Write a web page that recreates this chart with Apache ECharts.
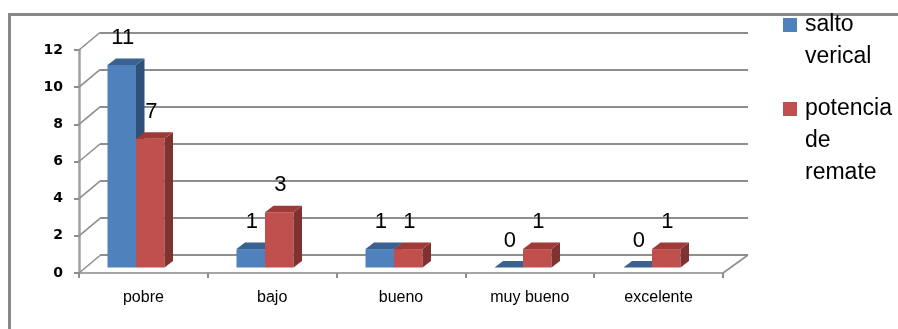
<!DOCTYPE html>
<html>
<head>
<meta charset="utf-8">
<title>salto verical / potencia de remate</title>
<script src="https://cdn.jsdelivr.net/npm/echarts@6/dist/echarts.min.js"></script>
<style>
  html, body { margin: 0; padding: 0; background: #ffffff; }
  #chart { width: 898px; height: 329px; }
</style>
</head>
<body>
<div id="chart"></div>
<script>
// Chart data
const categories = ['pobre', 'bajo', 'bueno', 'muy bueno', 'excelente'];
const seriesNames = ['salto verical', 'potencia de remate'];
const saltoVerical = [11, 1, 1, 0, 0];
const potenciaRemate = [7, 3, 1, 1, 1];
const yTicks = [0, 2, 4, 6, 8, 10, 12];

// Pseudo-3D look: depth offset of the bar boxes and of the wall/floor
const BAR_DEPTH = [8.5, -6.5];
const WALL_DEPTH_LEFT = [21, -17.5];
const WALL_DEPTH_RIGHT = [25, -18];
const BAR_FRACTION = 0.221;

const FACE = {
  blue: { front: '#4f81bd', top: '#3a6291', side: '#2f5078' },
  red:  { front: '#c0504d', top: '#9e3b39', side: '#7f3230' }
};

function barRenderer(shift, face) {
  return function (params, api) {
    const cat = api.value(0);
    const v = api.value(1);
    const base = api.coord([cat, 0]);
    const top = api.coord([cat, v]);
    const w = api.size([1, 0])[0] * BAR_FRACTION;
    const x0 = base[0] + shift * w;
    const x1 = x0 + w;
    const by = base[1];
    const ty = top[1];
    const dx = BAR_DEPTH[0], dy = BAR_DEPTH[1];
    return {
      type: 'group',
      children: [
        { type: 'rect', shape: { x: x0, y: ty, width: w, height: by - ty },
          style: { fill: face.front } },
        { type: 'polygon', shape: { points: [[x1, ty], [x1, by], [x1 + dx, by + dy], [x1 + dx, ty + dy]] },
          style: { fill: face.side } },
        { type: 'polygon', shape: { points: [[x0, ty], [x1, ty], [x1 + dx, ty + dy], [x0 + dx, ty + dy]] },
          style: { fill: face.top } },
        { type: 'text', x: x0 + w / 2 + 1, y: ty - 27,
          style: { text: String(v), fill: '#000', font: '22px "Liberation Sans", Arial, sans-serif',
                   align: 'center', verticalAlign: 'middle' } }
      ]
    };
  };
}

// Diagonal edges joining the front axis to the back wall
function wallEdges(params, api) {
  const v = api.value(1);
  const p = api.coord([0, v]);
  const x = params.coordSys.x;
  const lineStyle = { stroke: '#8e8e8e', lineWidth: 1.6 };
  const children = [
    { type: 'line', shape: { x1: x, y1: p[1], x2: x + WALL_DEPTH_LEFT[0], y2: p[1] + WALL_DEPTH_LEFT[1] }, style: lineStyle }
  ];
  if (v === 0) {
    const xr = params.coordSys.x + params.coordSys.width;
    children.push({ type: 'line',
      shape: { x1: xr, y1: p[1], x2: xr + WALL_DEPTH_RIGHT[0], y2: p[1] + WALL_DEPTH_RIGHT[1] },
      style: lineStyle });
  }
  return { type: 'group', children: children };
}

// Legend entries wrap one word per line; blank lines above keep the
// swatch level with the first word.
function wrapLegend(name) {
  const words = name.split(' ');
  return '\n'.repeat(words.length - 1) + words.join('\n');
}

const chart = echarts.init(document.getElementById('chart'), null, { renderer: 'canvas' });

const legendText = { color: '#000', fontFamily: '"Liberation Sans", Arial, sans-serif', fontSize: 23,
                     lineHeight: 32, padding: [0, 0, 0, 3] };

chart.setOption({
  animation: false,
  backgroundColor: '#ffffff',
  graphic: [
    { type: 'rect', z: 0, shape: { x: 9.5, y: 14.5, width: 1000, height: 1000 },
      style: { fill: 'none', stroke: '#888888', lineWidth: 3 } }
  ],
  legend: [
    { data: [seriesNames[0]], left: 783, top: -23, orient: 'vertical', padding: 0,
      icon: 'rect', itemWidth: 14, itemHeight: 14, formatter: wrapLegend, textStyle: legendText },
    { data: [seriesNames[1]], left: 783, top: 29, orient: 'vertical', padding: 0,
      icon: 'rect', itemWidth: 14, itemHeight: 14, formatter: wrapLegend, textStyle: legendText }
  ],
  grid: [
    { left: 79, top: 50, width: 644, height: 223 },   // front plane (axes)
    { left: 100, top: 33, width: 648, height: 222 },  // back wall
    { left: 71.5, top: 46.7, width: 645, height: 220.8 } // bar plane
  ],
  xAxis: [
    { gridIndex: 0, type: 'category', data: categories, boundaryGap: true,
      axisLine: { show: true, lineStyle: { color: '#a6a6a6', width: 2 } },
      axisTick: { show: true, length: 5, interval: 0, lineStyle: { color: '#8e8e8e', width: 2 } },
      axisLabel: { margin: 17, interval: 0, color: '#000', fontSize: 16,
                   fontFamily: '"Liberation Sans", Arial, sans-serif' },
      splitLine: { show: false } },
    { gridIndex: 1, type: 'category', data: categories, show: false },
    { gridIndex: 2, type: 'category', data: categories, show: false }
  ],
  yAxis: [
    { gridIndex: 0, type: 'value', min: 0, max: 12, interval: 2,
      axisLine: { show: true, lineStyle: { color: '#a0a0a0', width: 2.5 } },
      axisTick: { show: true, length: 5, lineStyle: { color: '#8e8e8e', width: 2 } },
      axisLabel: { margin: 16, color: '#000', fontSize: 14, fontWeight: 'bold',
                   fontFamily: '"DejaVu Sans", sans-serif' },
      splitLine: { show: false } },
    { gridIndex: 1, type: 'value', min: 0, max: 12, interval: 2,
      axisLine: { show: false }, axisTick: { show: false }, axisLabel: { show: false },
      splitLine: { show: true, lineStyle: { color: '#8e8e8e', width: 2 } } },
    { gridIndex: 2, type: 'value', min: 0, max: 12, interval: 2, show: false,
      splitLine: { show: false } }
  ],
  series: [
    { type: 'custom', name: 'edges', xAxisIndex: 0, yAxisIndex: 0, silent: true, z: 1,
      renderItem: wallEdges, data: yTicks.map(function (t) { return [0, t]; }) },
    { type: 'custom', name: seriesNames[0], xAxisIndex: 2, yAxisIndex: 2, z: 3,
      itemStyle: { color: FACE.blue.front },
      renderItem: barRenderer(-1, FACE.blue),
      data: saltoVerical.map(function (v, i) { return [i, v]; }) },
    { type: 'custom', name: seriesNames[1], xAxisIndex: 2, yAxisIndex: 2, z: 3,
      itemStyle: { color: FACE.red.front },
      renderItem: barRenderer(0, FACE.red),
      data: potenciaRemate.map(function (v, i) { return [i, v]; }) }
  ]
});
</script>
</body>
</html>
